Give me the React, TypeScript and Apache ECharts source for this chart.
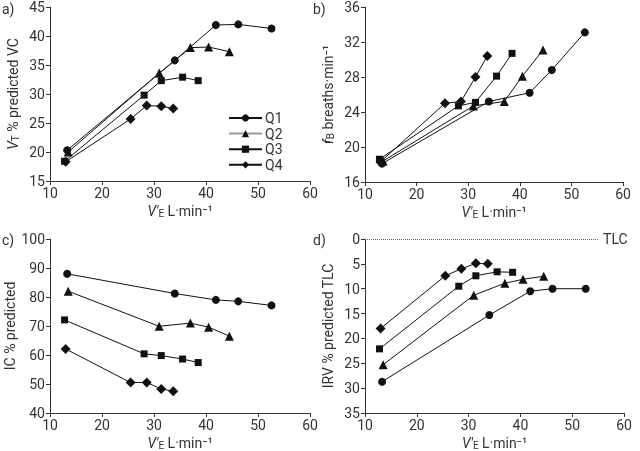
import React, { useEffect, useRef } from "react";
import * as echarts from "echarts";

const quartiles = ["Q1", "Q2", "Q3", "Q4"];
const symbols = ["circle", "triangle", "rect", "diamond"];
const symbolSizes = [8, 9, 7, 10];

// Minute ventilation (x) per quartile, L/min
const veQ1 = [13.3, 34.0, 41.9, 46.2, 52.6];
const veQ2 = [13.5, 31.0, 37.0, 40.5, 44.5];
const veQ3 = [12.8, 28.1, 31.4, 35.5, 38.5];
const veQ4 = [13.0, 25.5, 28.6, 31.4, 33.7];

// a) VT % predicted VC
const vtQ1 = [20.3, 35.8, 41.9, 42.0, 41.3];
const vtQ2 = [20.0, 33.6, 38.0, 38.1, 37.3];
const vtQ3 = [18.4, 29.8, 32.3, 32.9, 32.3];
const vtQ4 = [18.3, 25.7, 28.0, 27.9, 27.5];

// b) fB breaths/min
const fbQ1 = [18.1, 25.2, 26.2, 28.8, 33.1];
const fbQ2 = [18.4, 24.7, 25.2, 28.1, 31.1];
const fbQ3 = [18.6, 24.7, 25.1, 28.1, 30.7];
const fbQ4 = [18.3, 25.0, 25.2, 28.0, 30.4];

// c) IC % predicted
const icQ1 = [88.0, 81.2, 79.0, 78.5, 77.1];
const icQ2 = [82.0, 69.9, 71.0, 69.6, 66.5];
const icQ3 = [72.1, 60.4, 59.8, 58.6, 57.4];
const icQ4 = [62.1, 50.5, 50.5, 48.3, 47.5];

// d) IRV % predicted TLC
const irvQ1 = [28.7, 15.3, 10.5, 10.0, 10.0];
const irvQ2 = [25.3, 11.3, 8.9, 8.1, 7.5];
const irvQ3 = [22.1, 9.5, 7.4, 6.6, 6.7];
const irvQ4 = [18.0, 7.4, 6.0, 4.9, 5.0];

const xTicks = { min: 10, max: 60, interval: 10 };

const veAll = [veQ1, veQ2, veQ3, veQ4];
const panels = [
  { ys: [vtQ1, vtQ2, vtQ3, vtQ4], min: 15, max: 45, interval: 5 },
  { ys: [fbQ1, fbQ2, fbQ3, fbQ4], min: 16, max: 36, interval: 4 },
  { ys: [icQ1, icQ2, icQ3, icQ4], min: 40, max: 100, interval: 10 },
  { ys: [irvQ1, irvQ2, irvQ3, irvQ4], min: 0, max: 35, interval: 5, inverse: true },
];

const TXT = "#333";
const FONT = "Roboto";

export default function App() {
  const ref = useRef<HTMLDivElement>(null);
  useEffect(() => {
    if (!ref.current) return;
    const chart = echarts.init(ref.current, undefined, { renderer: "svg" });

    const grids = [
      { left: 50, top: 7, width: 260, height: 174 },
      { left: 365, top: 7, width: 258, height: 175 },
      { left: 50, top: 239, width: 260, height: 174 },
      { left: 365, top: 239, width: 259, height: 174 },
    ];

    const rich = {
      i: { fontStyle: "italic", fontSize: 14, color: TXT, fontFamily: FONT },
      s: { fontSize: 10, color: TXT, fontFamily: FONT, padding: [4, 0, 0, 0] },
      n: { fontSize: 14, color: TXT, fontFamily: FONT },
    };
    const xName = "{i|V'}{s|E}{n| L·min⁻¹}";
    const yNames = [
      "{i|V}{s|T}{n| % predicted VC}",
      "{i|f}{s|B}{n| breaths·min⁻¹}",
      "{n|IC % predicted}",
      "{n|IRV % predicted TLC}",
    ];

    const axisCommon = {
      axisLine: { onZero: false, lineStyle: { color: "#333", width: 1 } },
      axisTick: { length: 4, lineStyle: { color: "#333" } },
      axisLabel: { color: TXT, fontSize: 14, fontFamily: FONT, margin: 5 },
      splitLine: { show: false },
    };

    const xAxis = grids.map((_, i) => ({
      ...axisCommon,
      type: "value",
      gridIndex: i,
      min: xTicks.min,
      max: xTicks.max,
      interval: xTicks.interval,
      name: xName,
      nameLocation: "middle",
      nameGap: 23,
      nameTextStyle: { rich },
    }));

    const yAxis = panels.map((p, i) => ({
      ...axisCommon,
      type: "value",
      gridIndex: i,
      min: p.min,
      max: p.max,
      interval: p.interval,
      inverse: !!p.inverse,
      name: yNames[i],
      nameLocation: "middle",
      nameGap: 30,
      nameTextStyle: { rich },
    }));

    const series: any[] = [];
    panels.forEach((p, pi) => {
      p.ys.forEach((ys, qi) => {
        series.push({
          type: "line",
          name: quartiles[qi],
          xAxisIndex: pi,
          yAxisIndex: pi,
          data: ys.map((y, k) => [veAll[qi][k], y]),
          symbol: symbols[qi],
          symbolSize: symbolSizes[qi],
          showSymbol: true,
          lineStyle: { color: "#111", width: 1 },
          itemStyle: { color: "#111" },
          z: 3,
        });
      });
    });
    series.push({
      type: "line",
      name: "TLC",
      xAxisIndex: 3,
      yAxisIndex: 3,
      data: [],
      markLine: {
        silent: true,
        symbol: "none",
        lineStyle: { type: "dotted", color: "#666", width: 1 },
        label: {
          show: true,
          position: "end",
          formatter: "TLC",
          color: TXT,
          fontSize: 14,
          fontFamily: FONT,
          distance: 5,
        },
        data: [[{ coord: [10, 0] }, { coord: [55, 0] }]],
      },
    });

    chart.setOption({
      animation: false,
      textStyle: { fontFamily: FONT },
      grid: grids,
      xAxis,
      yAxis,
      legend: {
        data: [
          { name: "Q1" },
          { name: "Q2", lineStyle: { color: "#999" } },
          { name: "Q3" },
          { name: "Q4" },
        ],
        orient: "vertical",
        left: 223,
        top: 106,
        itemWidth: 33,
        itemHeight: 9,
        itemGap: 1.6,
        textStyle: { color: TXT, fontSize: 14, lineHeight: 14, fontFamily: FONT, padding: [0, 0, 0, -2] },
        selectedMode: false,
      },
      graphic: [
        { type: "text", left: 2, top: 2, style: { text: "a)", fontSize: 14, fill: TXT, fontFamily: FONT } },
        { type: "text", left: 313, top: 2, style: { text: "b)", fontSize: 14, fill: TXT, fontFamily: FONT } },
        { type: "text", left: 2, top: 233, style: { text: "c)", fontSize: 14, fill: TXT, fontFamily: FONT } },
        { type: "text", left: 313, top: 233, style: { text: "d)", fontSize: 14, fill: TXT, fontFamily: FONT } },
      ],
      series,
    });
    return () => chart.dispose();
  }, []);
  return <div ref={ref} style={{ position: "fixed", left: 0, top: 0, width: 640, height: 451 }} />;
}
